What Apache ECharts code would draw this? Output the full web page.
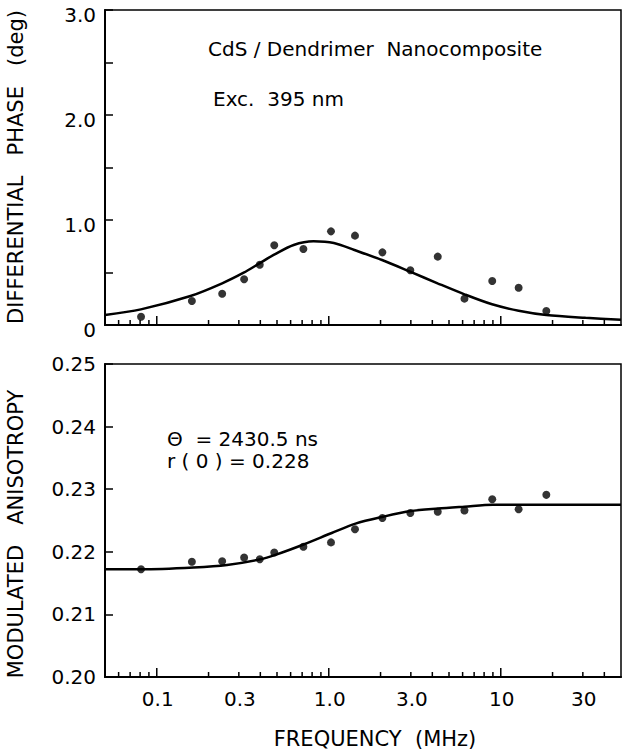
<!DOCTYPE html>
<html>
<head>
<meta charset="utf-8">
<script src="https://cdn.jsdelivr.net/npm/echarts@6/dist/echarts.min.js"></script>
<style>
html,body{margin:0;padding:0;background:#fff;}
#chart{width:628px;height:750px;}
</style>
</head>
<body>
<div id="chart"></div>
<script>
// ---- data ----
var freqs = [0.081, 0.160, 0.240, 0.322, 0.397, 0.482, 0.712, 1.03, 1.42, 2.05, 2.98, 4.30, 6.15, 8.92, 12.7, 18.4];
var phaseData = [0.079, 0.229, 0.298, 0.435, 0.574, 0.759, 0.724, 0.892, 0.851, 0.692, 0.521, 0.651, 0.251, 0.419, 0.355, 0.133];
var anisoData = [0.2172, 0.2184, 0.2185, 0.2191, 0.2188, 0.2199, 0.2208, 0.2215, 0.2236, 0.2254, 0.2262, 0.2264, 0.2266, 0.2284, 0.2268, 0.2291];

var phaseFitFreq = [0.05, 0.0808, 0.157, 0.240, 0.320, 0.395, 0.478, 0.625, 0.815, 1.07, 1.41, 2.04, 2.97, 4.29, 6.15, 8.90, 12.7, 18.4, 31.1, 50];
var phaseFit =     [0.095, 0.149, 0.276, 0.397, 0.498, 0.587, 0.667, 0.762, 0.797, 0.781, 0.714, 0.619, 0.508, 0.397, 0.292, 0.197, 0.136, 0.095, 0.068, 0.050];

var anisoFitFreq = [0.05, 0.0815, 0.164, 0.256, 0.400, 0.489, 0.720, 1.04, 1.43, 2.07, 3.00, 4.31, 6.15, 9.0, 20, 50];
var anisoFit =     [0.2172, 0.2172, 0.2175, 0.2179, 0.2188, 0.2195, 0.2212, 0.2230, 0.2245, 0.2256, 0.2265, 0.2269, 0.2272, 0.2275, 0.2275, 0.2275];

var majorTicks = [0.1, 1, 10];
var minorTicks = [0.06, 0.07, 0.08, 0.09, 0.2, 0.3, 0.4, 0.5, 0.6, 0.7, 0.8, 0.9, 2, 3, 4, 5, 6, 7, 8, 9, 20, 30, 40];
var xTickLabelValues = [0.1, 0.3, 1, 3, 10, 30];
var xTickLabels = ['0.1', '0.3', '1.0', '3.0', '10', '30'];
var phaseTickValues = [0, 1, 2, 3];
var phaseTickLabels = ['0', '1.0', '2.0', '3.0'];

// ---- chart ----
var FONT = '"DejaVu Sans", sans-serif';
var chart = echarts.init(document.getElementById('chart'), null, {renderer: 'svg'});

function zip(a, b) { return a.map(function (v, i) { return [v, b[i]]; }); }

var tickItems = majorTicks.map(function (v) { return [v, 1]; })
  .concat(minorTicks.map(function (v) { return [v, 0]; }));

function tickSeries(gi, yBase) {
  return {
    type: 'custom', xAxisIndex: gi, yAxisIndex: gi, silent: true, clip: false, z: 5,
    data: tickItems.map(function (t) { return [t[0], yBase, t[1]]; }),
    renderItem: function (params, api) {
      var p = api.coord([api.value(0), api.value(1)]);
      var len = api.value(2) ? 9 : 5;
      return {type: 'line', shape: {x1: p[0], y1: p[1], x2: p[0], y2: p[1] - len},
        style: {stroke: '#000', lineWidth: 1.5}};
    }
  };
}

var option = {
  backgroundColor: '#fff',
  animation: false,
  grid: [
    {left: 105, top: 10, width: 516, height: 315, show: true, borderColor: '#000', borderWidth: 1.5, backgroundColor: 'transparent'},
    {left: 105, top: 364, width: 516, height: 313, show: true, borderColor: '#000', borderWidth: 1.5, backgroundColor: 'transparent'}
  ],
  xAxis: [0, 1].map(function (i) {
    return {
      type: 'log', logBase: 10, gridIndex: i, min: 0.05, max: 50,
      axisLine: {show: true, onZero: false, lineStyle: {color: '#000', width: 2}},
      axisTick: {show: false}, axisLabel: {show: false}, splitLine: {show: false}, minorTick: {show: false}
    };
  }),
  yAxis: [
    {
      type: 'value', gridIndex: 0, min: 0, max: 3, interval: 0.5,
      axisLine: {show: true, lineStyle: {color: '#000', width: 2}},
      axisTick: {show: true, inside: true, length: 8, lineStyle: {color: '#000', width: 1.5}},
      splitLine: {show: false},
      axisLabel: {show: false}
    },
    {
      type: 'value', gridIndex: 1, min: 0.20, max: 0.25, interval: 0.01,
      axisLine: {show: true, lineStyle: {color: '#000', width: 2}},
      axisTick: {show: true, inside: true, length: 8, lineStyle: {color: '#000', width: 1.5}},
      splitLine: {show: false},
      axisLabel: {margin: 9, color: '#000', fontFamily: FONT, fontSize: 20,
        formatter: function (v) { return v.toFixed(2); }}
    }
  ],
  graphic: [
    {type: 'text', left: 208, top: 39, style: {text: 'CdS / Dendrimer  Nanocomposite', font: '20px ' + FONT, fill: '#000'}},
    {type: 'text', left: 213, top: 89, style: {text: 'Exc.  395 nm', font: '20px ' + FONT, fill: '#000'}},
    {type: 'text', left: 167, top: 429, style: {text: 'Θ  = 2430.5 ns', font: '20px ' + FONT, fill: '#000'}},
    {type: 'text', left: 167, top: 451, style: {text: 'r ( 0 ) = 0.228', font: '20px ' + FONT, fill: '#000'}},
    {type: 'text', x: 16, y: 167, rotation: Math.PI / 2, style: {text: 'DIFFERENTIAL   PHASE   (deg)', font: '21px ' + FONT, fill: '#000', align: 'center', verticalAlign: 'middle'}},
    {type: 'text', x: 16, y: 534, rotation: Math.PI / 2, style: {text: 'MODULATED   ANISOTROPY', font: '21px ' + FONT, fill: '#000', align: 'center', verticalAlign: 'middle'}},
    {type: 'text', x: 375, y: 739, style: {text: 'FREQUENCY  (MHz)', font: '21px ' + FONT, fill: '#000', align: 'center', verticalAlign: 'middle'}}
  ],
  series: [
    tickSeries(0, 0),
    tickSeries(1, 0.20),
    {
      type: 'custom', xAxisIndex: 1, yAxisIndex: 1, silent: true, clip: false,
      data: xTickLabelValues.map(function (v, i) { return [v, 0.20, i]; }),
      renderItem: function (params, api) {
        var p = api.coord([api.value(0), api.value(1)]);
        return {type: 'text', x: p[0] + 1, y: p[1] + 22,
          style: {text: xTickLabels[api.value(2)], font: '20px ' + FONT, fill: '#000', align: 'center', verticalAlign: 'middle'}};
      }
    },
    {
      type: 'custom', xAxisIndex: 0, yAxisIndex: 0, silent: true, clip: false,
      data: phaseTickValues.map(function (v, i) { return [0.05, v, i]; }),
      renderItem: function (params, api) {
        var p = api.coord([api.value(0), api.value(1)]);
        return {type: 'text', x: p[0] - 9, y: p[1] + 5,
          style: {text: phaseTickLabels[api.value(2)], font: '20px ' + FONT, fill: '#000', align: 'right', verticalAlign: 'middle'}};
      }
    },
    {type: 'line', xAxisIndex: 0, yAxisIndex: 0, data: zip(phaseFitFreq, phaseFit), smooth: 0.3, showSymbol: false,
      lineStyle: {color: '#000', width: 2.5}, silent: true},
    {type: 'scatter', xAxisIndex: 0, yAxisIndex: 0, data: zip(freqs, phaseData), symbol: 'circle', symbolSize: 8,
      itemStyle: {color: '#000'}, silent: true},
    {type: 'line', xAxisIndex: 1, yAxisIndex: 1, data: zip(anisoFitFreq, anisoFit), smooth: 0.3, showSymbol: false,
      lineStyle: {color: '#000', width: 2.5}, silent: true},
    {type: 'scatter', xAxisIndex: 1, yAxisIndex: 1, data: zip(freqs, anisoData), symbol: 'circle', symbolSize: 8,
      itemStyle: {color: '#000'}, silent: true}
  ]
};
chart.setOption(option);
</script>
</body>
</html>
